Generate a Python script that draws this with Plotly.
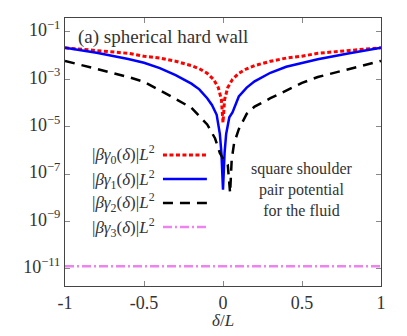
import plotly.graph_objects as go

# values (delta/L, |beta gamma_i| L^2)
d_g0 = [-1, -0.8, -0.6, -0.5, -0.4, -0.3, -0.2, -0.15, -0.1, -0.06, -0.03, -0.01, 0,
        0.01, 0.03, 0.06, 0.1, 0.15, 0.2, 0.3, 0.4, 0.5, 0.6, 0.8, 1]
g0 = [2.14e-2, 1.66e-2, 1.26e-2, 9.5e-3, 7.9e-3, 5.8e-3, 3.8e-3, 2.8e-3, 1.8e-3, 1.0e-3, 4.5e-4, 1.4e-4, 1.5e-5,
      1.4e-4, 4.5e-4, 1.0e-3, 1.8e-3, 2.8e-3, 3.8e-3, 5.8e-3, 7.9e-3, 9.5e-3, 1.26e-2, 1.66e-2, 2.14e-2]

d_g1 = [-1, -0.8, -0.6, -0.5, -0.4, -0.3, -0.2, -0.15, -0.1, -0.07, -0.04, -0.02, -0.01, 0,
        0.01, 0.02, 0.04, 0.06, 0.1, 0.15, 0.2, 0.3, 0.4, 0.5, 0.6, 0.8, 1]
g1 = [2.14e-2, 1.32e-2, 7.2e-3, 5.0e-3, 3.0e-3, 1.5e-3, 6.6e-4, 3.8e-4, 1.6e-4, 8.3e-5, 3.2e-5, 5.0e-6, 7.9e-7, 2.2e-8,
      7.9e-7, 5.0e-6, 2.5e-5, 4.0e-5, 1.9e-4, 4.5e-4, 8.3e-4, 1.9e-3, 3.4e-3, 4.8e-3, 7.1e-3, 1.26e-2, 2.14e-2]

d_g2 = [-1, -0.8, -0.6, -0.5, -0.4, -0.3, -0.2, -0.1, -0.05, -0.02, 0, 0.03, 0.045,
        0.055, 0.07, 0.1, 0.15, 0.2, 0.3, 0.4, 0.5, 0.6, 0.8, 1]
g2 = [6.0e-3, 2.8e-3, 1.26e-3, 7.9e-4, 3.5e-4, 1.5e-4, 6.3e-5, 1.26e-5, 3.2e-6, 7.9e-7, 4.5e-7, 2.5e-7, 1.6e-8,
      4.0e-7, 2.0e-6, 7.9e-6, 3.5e-5, 7.1e-5, 1.6e-4, 3.5e-4, 7.1e-4, 1.26e-3, 2.8e-3, 6.0e-3]

d_g3 = [-1, 1]
g3 = [1.3e-11, 1.3e-11]

ytick_vals = [1e-1, 1e-3, 1e-5, 1e-7, 1e-9, 1e-11]
ytick_text = ["10<sup>−1</sup>", "10<sup>−3</sup>", "10<sup>−5</sup>", "10<sup>−7</sup>",
              "10<sup>−9</sup>", "10<sup>−11</sup>"]
xtick_vals = [-1, -0.5, 0, 0.5, 1]
xtick_text = ["-1", "-0.5", "0", "0.5", "1"]

FONT = "Liberation Serif"

styles = [
    (d_g0, g0, "red", 3, "4px,2.5px", "0"),
    (d_g1, g1, "blue", 2.5, "solid", "1"),
    (d_g2, g2, "black", 2.5, "10px,7px", "2"),
    (d_g3, g3, "violet", 2.5, "9px,3px,2px,3px", "3"),
]

fig = go.Figure()
for dx, dy, col, w, dash, idx in styles:
    fig.add_trace(go.Scatter(x=dx, y=dy, mode="lines",
                             line=dict(color=col, width=w, dash=dash),
                             showlegend=False))

# hand-made legend: text on the left, line sample on the right
leg_y = [0.489, 0.399, 0.310, 0.220]
for (dx, dy, col, w, dash, idx), yy in zip(styles, leg_y):
    fig.add_annotation(x=0.29, y=yy, xref="paper", yref="paper", xanchor="right", yanchor="middle",
                       text=f"|<i>βγ</i><sub>{idx}</sub>(<i>δ</i>)|<i>L</i><sup>2</sup>",
                       showarrow=False, font=dict(family=FONT, size=17, color="#333"))
    fig.add_shape(type="line", xref="paper", yref="paper", x0=0.31, x1=0.449, y0=yy, y1=yy,
                  line=dict(color=col, width=w, dash=dash))

fig.add_annotation(x=0.035, y=0.93, xref="paper", yref="paper", xanchor="left", yanchor="middle",
                   text="(a) spherical hard wall", showarrow=False,
                   font=dict(family=FONT, size=19, color="#333"))
fig.add_annotation(x=0.75, y=0.36, xref="paper", yref="paper", xanchor="center", yanchor="middle",
                   text="square shoulder<br>pair potential<br>for the fluid", showarrow=False,
                   font=dict(family=FONT, size=16, color="#333"))
# x-axis title
fig.add_annotation(x=0.5, y=-0.13, xref="paper", yref="paper", xanchor="center", yanchor="middle",
                   text="<i>δ</i>/<i>L</i>", showarrow=False,
                   font=dict(family=FONT, size=17, color="#333"))

# page body has an 8px margin, so the figure is sized/offset to compensate
fig.update_layout(
    width=399, height=328,
    margin=dict(l=57, r=26, t=10, b=50),
    paper_bgcolor="white", plot_bgcolor="white",
    font=dict(family=FONT, size=18, color="#333"),
    xaxis=dict(range=[-1, 1], tickvals=xtick_vals, ticktext=xtick_text,
               ticks="inside", ticklen=5, tickcolor="#888", mirror="allticks",
               showline=True, linecolor="#444", linewidth=1, showgrid=False, zeroline=False),
    yaxis=dict(type="log", range=[-11.72, -0.41], tickvals=ytick_vals, ticktext=ytick_text,
               ticks="inside", ticklen=5, tickcolor="#888", mirror="allticks", ticklabelshift=-2,
               showline=True, linecolor="#444", linewidth=1, showgrid=False, zeroline=False),
)

fig.write_html("out.html")
